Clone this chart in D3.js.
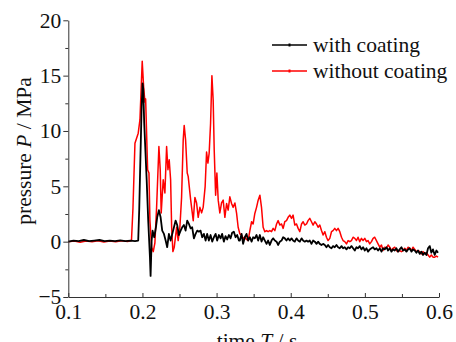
<!DOCTYPE html>
<html>
<head>
<meta charset="utf-8">
<script src="https://cdn.jsdelivr.net/npm/d3@7"></script>
<style>
  html, body { margin: 0; padding: 0; background: #fff; }
  svg { display: block; font-family: "Liberation Serif", "Times New Roman", serif; }
  svg text, .tick text { font-family: "Liberation Serif", "Times New Roman", serif !important; }
</style>
</head>
<body>
<svg id="chart" width="456" height="342"></svg>
<script>
// series labels and colours
const seriesNames = ['with coating', 'without coating'];
const seriesColors = ['#000000', '#ff0000'];

// axis ticks
const xTicks = [0.1, 0.2, 0.3, 0.4, 0.5, 0.6];
const xMinorTicks = [0.15, 0.25, 0.35, 0.45, 0.55];
const yTicks = [-5, 0, 5, 10, 15, 20];
const yMinorTicks = [-2.5, 2.5, 7.5, 12.5, 17.5];

// without coating (red)
const timeRed = [0.100, 0.108, 0.116, 0.124, 0.132, 0.140, 0.148, 0.156, 0.164, 0.172, 0.180, 0.1852,
  0.1872, 0.1899, 0.1943, 0.1966, 0.1997, 0.2016, 0.2034, 0.2043, 0.2070, 0.2088, 0.2101, 0.2124,
  0.2146, 0.2168, 0.2191, 0.2222, 0.2240, 0.2253, 0.2280, 0.2303, 0.2326, 0.2344, 0.2361, 0.2380,
  0.2394, 0.2411, 0.2429, 0.2461, 0.2482, 0.2505, 0.2528, 0.2550, 0.2563, 0.2582, 0.2604, 0.2617,
  0.2650, 0.2685, 0.2708, 0.2730, 0.2752, 0.2775, 0.2798, 0.2819, 0.2846, 0.2865, 0.2883, 0.2900,
  0.2919, 0.2937, 0.2954, 0.2968, 0.2987, 0.3004, 0.3022, 0.3044, 0.3067, 0.3089, 0.3112, 0.3135,
  0.3156, 0.3179, 0.3202, 0.3224, 0.3247, 0.3270, 0.3291, 0.3314, 0.3337, 0.3358, 0.3381, 0.3404,
  0.3426, 0.3449, 0.3472, 0.3493, 0.3516, 0.3539, 0.3561, 0.3584, 0.3606, 0.3628, 0.3651, 0.3674,
  0.3695, 0.3718, 0.3741, 0.3763, 0.3786, 0.3809, 0.3830, 0.3853, 0.3876, 0.3898, 0.3920, 0.3943,
  0.3965, 0.3988, 0.4011, 0.4032, 0.4055, 0.4078, 0.4100, 0.4123, 0.4146, 0.4167, 0.4190, 0.4213,
  0.4234, 0.4257, 0.4280, 0.4302, 0.4325, 0.4348, 0.4369, 0.4392, 0.4415, 0.4437, 0.4460, 0.4482,
  0.4504, 0.4527, 0.4550, 0.4571, 0.4594, 0.4617, 0.4639, 0.4662, 0.4685, 0.4706, 0.4729, 0.4752,
  0.4774, 0.4797, 0.4819, 0.4841, 0.4864, 0.4887, 0.4908, 0.4931, 0.4954, 0.4976, 0.4999, 0.5022,
  0.5043, 0.5066, 0.5089, 0.5111, 0.5133, 0.5156, 0.5178, 0.5201, 0.5224, 0.5245, 0.5268, 0.5291,
  0.5313, 0.5336, 0.5358, 0.5380, 0.5403, 0.5426, 0.5447, 0.5470, 0.5493, 0.5515, 0.5538, 0.5561,
  0.5582, 0.5605, 0.5628, 0.5650, 0.5673, 0.5695, 0.5717, 0.5740, 0.5763, 0.5784, 0.5807, 0.5830,
  0.5852, 0.5875, 0.5897, 0.5919, 0.5942, 0.5965, 0.5987];
const pressureRed = [0, 0.05, -0.05, 0.05, 0, 0.08, -0.03, 0.05, 0, 0.08, 0.02, 0.1,
  3.0, 8.9, 9.8, 11.0, 16.3, 14.0, 12.6, 12.9, 6.5, 6.2, 1.9, -0.5,
  -0.9, -0.1, 3.1, 8.6, 6.5, 2.6, 5.6, 4.4, 8.6, 6.5, 7.4, 5.6,
  1.3, -0.9, -0.5, 1.3, 0.1, 1.3, 4.0, 9.2, 10.5, 9.2, 6.2, 5.9,
  3.8, 1.9, 4.0, 3.5, 2.2, 3.1, 2.6, 3.1, 5.0, 8.1, 7.1, 8.0,
  10.7, 15.0, 12.8, 8.3, 4.2, 6.2, 3.75, 2.6, 3.5, 3.75, 2.2, 3.45,
  2.85, 4.05, 3.45, 3.1, 3.5, 2.55, 1.3, 0.7, 0.6, 0.3, 0.4, 0.2,
  0.1, 1.0, 1.8, 1.6, 2.55, 3.1, 3.75, 4.2, 3.1, 1.3, 0.9, 1.0,
  0.9, 1.0, 0.9, 1.2, 1.0, 1.6, 1.9, 1.5, 1.6, 1.2, 1.8, 1.9,
  2.2, 2.4, 2.1, 2.4, 1.5, 1.6, 1.2, 0.9, 1.6, 1.8, 1.5, 1.6,
  1.9, 2.1, 1.8, 1.5, 1.8, 1.6, 1.3, 1.5, 1.0, 0.6, 0.9, 0.4,
  0.1, 0.3, 0.9, 1.0, 1.2, 1.0, 1.2, 0.9, 0.4, 0.1, 0, -0.2,
  0.1, 0, 0.1, 0.4, 0.3, 0.1, 0.4, 0, 0.3, 0.1, 0.3, 0,
  0.1, -0.2, 0, 0.3, 0.4, 0.1, -0.2, -0.5, -0.3, -0.8, -0.5, -0.6,
  -0.3, -0.5, -0.8, -0.6, -0.5, -0.8, -0.9, -0.8, -0.9, -0.8, -0.6, -0.8,
  -0.5, -0.6, -0.8, -0.5, -0.7, -0.9, -0.8, -0.9, -1.1, -0.9, -1.1, -1.0,
  -1.2, -1.4, -1.2, -1.4, -1.4, -1.3, -1.4];

// with coating (black)
const timeBlack = [0.100, 0.107, 0.114, 0.121, 0.128, 0.135, 0.142, 0.149, 0.156, 0.163, 0.170, 0.177,
  0.184, 0.190, 0.1943, 0.1957, 0.1966, 0.1989, 0.2002, 0.2011, 0.2024, 0.2057, 0.2078, 0.2101,
  0.2110, 0.2124, 0.2137, 0.2159, 0.2182, 0.2199, 0.2222, 0.2245, 0.2267, 0.2290, 0.2313, 0.2334,
  0.2357, 0.2380, 0.2402, 0.2425, 0.2447, 0.2469, 0.2492, 0.2515, 0.2536, 0.2559, 0.2582, 0.2604,
  0.2627, 0.2650, 0.2671, 0.2694, 0.2717, 0.2739, 0.2761, 0.2784, 0.2806, 0.2829, 0.2852, 0.2873,
  0.2896, 0.2919, 0.2941, 0.2964, 0.2987, 0.3008, 0.3031, 0.3054, 0.3075, 0.3098, 0.3121, 0.3143,
  0.3166, 0.3189, 0.3210, 0.3233, 0.3256, 0.3278, 0.3301, 0.3314, 0.3337, 0.3358, 0.3381, 0.3404,
  0.3426, 0.3449, 0.3472, 0.3493, 0.3516, 0.3539, 0.3561, 0.3584, 0.3606, 0.3628, 0.3651, 0.3674,
  0.3695, 0.3718, 0.3741, 0.3763, 0.3786, 0.3809, 0.3830, 0.3853, 0.3876, 0.3898, 0.3920, 0.3943,
  0.3965, 0.3988, 0.4011, 0.4032, 0.4055, 0.4078, 0.4100, 0.4123, 0.4146, 0.4167, 0.4190, 0.4213,
  0.4234, 0.4257, 0.4280, 0.4302, 0.4325, 0.4348, 0.4369, 0.4392, 0.4415, 0.4437, 0.4460, 0.4482,
  0.4504, 0.4527, 0.4550, 0.4571, 0.4594, 0.4617, 0.4639, 0.4662, 0.4685, 0.4706, 0.4729, 0.4752,
  0.4774, 0.4797, 0.4819, 0.4841, 0.4864, 0.4887, 0.4908, 0.4931, 0.4954, 0.4976, 0.4999, 0.5022,
  0.5043, 0.5066, 0.5089, 0.5111, 0.5133, 0.5156, 0.5178, 0.5201, 0.5224, 0.5245, 0.5268, 0.5291,
  0.5313, 0.5336, 0.5358, 0.5380, 0.5403, 0.5426, 0.5447, 0.5470, 0.5493, 0.5515, 0.5538, 0.5561,
  0.5582, 0.5605, 0.5628, 0.5650, 0.5673, 0.5695, 0.5717, 0.5740, 0.5763, 0.5784, 0.5807, 0.5830,
  0.5852, 0.5875, 0.5897, 0.5919, 0.5942, 0.5965, 0.5987];
const pressureBlack = [0, 0.1, 0.05, 0.15, 0.05, 0.1, 0.15, 0.05, 0.1, 0.05, 0.12, 0.05,
  0.1, 0.05, 0.1, 3.0, 5.6, 12.2, 14.3, 13.8, 10.7, 5.6, 1.9, -1.4,
  -3.1, 0.1, 1.0, 0.4, 1.3, 2.2, 2.85, 2.2, 1.0, 0.7, 0.1, -0.5,
  0.7, 0.1, 0.7, 1.3, 1.9, 1.5, 0.6, 1.0, 1.3, 1.5, 1.0, 1.9,
  1.6, 1.2, 1.3, 0.3, 0.7, 1.0, 0.9, 1.0, 0.4, 0.7, 0.1, 0.7,
  0.1, 0.6, 0, 0.4, 0.7, 0.1, 0.6, 0.3, 0.7, 0, 0.5, 0.2,
  0.6, 0.3, 0.8, 0.9, 0.4, 0.6, 0.1, 0.1, 0.7, -0.2, 0.4, 0.7,
  0.1, 0.4, 0, 0.4, 0.3, 0.6, 0.1, 0.6, 0, 0.4, 0.1, -0.2,
  0.1, -0.3, 0.1, 0.3, 0.1, 0, -0.3, 0, 0.1, 0.4, 0.3, 0.1,
  0.3, 0.1, 0.3, 0.1, 0, 0.3, 0.1, 0, 0.3, 0.1, 0, 0.1,
  0, 0.1, -0.2, 0.1, 0, -0.2, 0, -0.2, -0.3, -0.2, -0.3, -0.5,
  -0.3, -0.5, -0.6, -0.4, -0.5, -0.3, -0.5, -0.6, -0.4, -0.6, -0.5, -0.7,
  -0.5, -0.6, -0.4, -0.6, -0.8, -0.5, -0.6, -0.4, -0.7, -0.5, -0.8, -0.6,
  -0.9, -0.7, -0.6, -0.5, -0.7, -0.6, -0.8, -0.6, -0.9, -0.6, -0.7, -0.5,
  -0.8, -0.6, -0.9, -0.7, -0.8, -0.6, -0.9, -0.7, -0.5, -0.8, -0.7, -0.9,
  -0.7, -0.6, -0.9, -0.7, -0.8, -1.0, -0.8, -1.1, -0.9, -1.2, -1.0, -1.2,
  -0.6, -0.4, -1.0, -0.7, -1.2, -0.8, -1.0];

const svg = d3.select('#chart');
const plotLeft = 68.3, plotRight = 439, plotTop = 20.3, plotBottom = 297;
const fontSize = 21.5;

const x = d3.scaleLinear().domain([0.1, 0.6]).range([plotLeft, plotRight]);
const y = d3.scaleLinear().domain([-5, 20]).range([plotBottom, plotTop]);

const line = d3.line()
  .x(d => x(d[0]))
  .y(d => y(d[1]));

const redData = timeRed.map((t, i) => [t, pressureRed[i]]);
const blackData = timeBlack.map((t, i) => [t, pressureBlack[i]]);

svg.append('path')
  .datum(redData)
  .attr('fill', 'none')
  .attr('stroke', seriesColors[1])
  .attr('stroke-width', 1.5)
  .attr('stroke-linejoin', 'round')
  .attr('d', line);

svg.append('path')
  .datum(blackData)
  .attr('fill', 'none')
  .attr('stroke', seriesColors[0])
  .attr('stroke-width', 1.8)
  .attr('stroke-linejoin', 'round')
  .attr('d', line);

// axes
svg.append('g')
  .attr('transform', `translate(0,${plotBottom})`)
  .call(d3.axisBottom(x).tickValues(xTicks).tickSize(-4).tickPadding(7).tickSizeOuter(0).tickFormat(d3.format('.1f')));
svg.append('g')
  .attr('transform', `translate(0,${plotBottom})`)
  .call(d3.axisBottom(x).tickValues(xMinorTicks).tickSize(-3).tickSizeOuter(0).tickFormat(''))
  .call(g => g.select('.domain').remove());

const yAxis = svg.append('g')
  .attr('transform', `translate(${plotLeft},0)`)
  .call(d3.axisLeft(y).tickValues(yTicks).tickSize(5).tickPadding(2).tickSizeOuter(0));
svg.append('g')
  .attr('transform', `translate(${plotLeft},0)`)
  .call(d3.axisLeft(y).tickValues(yMinorTicks).tickSize(3).tickSizeOuter(0).tickFormat(''))
  .call(g => g.select('.domain').remove());

svg.selectAll('g').attr('font-family', null);
svg.selectAll('.tick line, .domain').attr('stroke', '#333').attr('stroke-width', 1);
svg.selectAll('.tick text')
  .attr('font-size', fontSize)
  .attr('fill', '#111');
yAxis.selectAll('.tick text').text(d => d < 0 ? '\u2212' + Math.abs(d) : d);

// axis titles
const yTitle = svg.append('text')
  .attr('transform', 'translate(31,151) rotate(-90)')
  .attr('text-anchor', 'middle')
  .attr('font-size', fontSize)
  .attr('fill', '#111');
yTitle.append('tspan').text('pressure ');
yTitle.append('tspan').attr('font-style', 'italic').text('P');
yTitle.append('tspan').text(' / MPa');

const xTitle = svg.append('text')
  .attr('x', 257)
  .attr('y', 348)
  .attr('text-anchor', 'middle')
  .attr('font-size', fontSize)
  .attr('fill', '#111');
xTitle.append('tspan').text('time ');
xTitle.append('tspan').attr('font-style', 'italic').text('T');
xTitle.append('tspan').text(' / s');

// legend
const legend = svg.append('g');
seriesNames.forEach((name, i) => {
  const ly = 45 + i * 26;
  legend.append('line')
    .attr('x1', 272).attr('x2', 307)
    .attr('y1', ly).attr('y2', ly)
    .attr('stroke', seriesColors[i])
    .attr('stroke-width', 1.6);
  legend.append('rect')
    .attr('x', 288.5).attr('y', ly - 1.5)
    .attr('width', 2).attr('height', 3)
    .attr('fill', seriesColors[i]);
  legend.append('text')
    .attr('x', 313)
    .attr('y', ly + 7)
    .attr('font-size', fontSize)
    .attr('fill', '#111')
    .text(name);
});
</script>
</body>
</html>
